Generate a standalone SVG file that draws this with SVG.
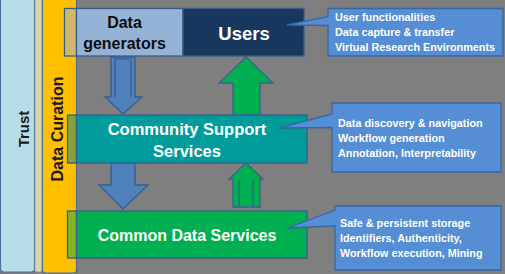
<svg xmlns="http://www.w3.org/2000/svg" width="505" height="274" viewBox="0 0 505 274">
<style>
.bx{stroke:#385d8a;stroke-width:1.3}
.cl{fill:#558ed5;stroke:#3a679f;stroke-width:1.3}
.t{font-family:"Liberation Sans",Arial,sans-serif;font-weight:bold}
.ct{font-family:"Liberation Sans",Arial,sans-serif;font-weight:bold;font-size:10.8px;fill:#ffffff}
.ab{fill:#4f81bd;stroke:#385d8a;stroke-width:1.3}
.ag{fill:#00b050;stroke:#3f5f8a;stroke-width:1.3}
.ln{fill:none;stroke:#385d8a;stroke-width:1.2}
</style>
<rect x="0" y="0" width="505" height="274" fill="#7f7f7f"/>
<g id="trust">
<rect x="0.5" y="-10" width="34" height="282" rx="3" fill="#b7dee8" stroke="#4a6f9a" stroke-width="1.2"/>
<text class="t" font-size="15" fill="#1a1a1a" transform="translate(28.5,129) rotate(-90)" text-anchor="middle">Trust</text>
</g>
<rect x="35" y="-10" width="7" height="282" rx="2" fill="#d6d7a4" stroke="#8a9ab8" stroke-width="0.8"/>
<g id="data-curation">
<rect x="42.5" y="-10" width="34" height="283" rx="3" fill="#ffc000" stroke="#4a6f9a" stroke-width="1.2"/>
<text class="t" font-size="16" fill="#1a1a1a" transform="translate(63,129) rotate(-90)" text-anchor="middle">Data Curation</text>
</g>
<g id="connectors">
<path class="ab" d="M111,57 H135 V97 H142 L123,114 L105,97 H111 Z"/>
<path class="ln" d="M115,97 V59 H131 V97"/>
<path class="ab" d="M111,163 H135 V185 H148 L123,209 L99,185 H111 Z"/>
<path class="ag" d="M233,115 V83 H219 L246,57 L273,83 H260 V115 Z"/>
<path class="ag" d="M233,207 V179 H229 L246,163 L263,179 H260 V207 Z"/>
<path class="ln" d="M239,207 V180 M253,207 V180" stroke="#3f5f8a"/>
</g>
<g id="data-generators">
<rect class="bx" x="64.5" y="8.5" width="12" height="47.5" fill="#d2b96a"/>
<rect class="bx" x="76.5" y="8.5" width="106.5" height="47.5" fill="#95b3d7"/>
<text class="t" font-size="16" fill="#0d0d0d" text-anchor="middle"><tspan x="124.5" y="27.5">Data</tspan><tspan x="124.5" y="49">generators</tspan></text>
</g>
<g id="users">
<rect class="bx" x="183" y="8.5" width="121" height="47.5" fill="#17375e"/>
<text class="t" font-size="18.5" fill="#ffffff" text-anchor="middle" x="244" y="39.5">Users</text>
</g>
<g id="community-support-services">
<rect class="bx" x="67.5" y="115" width="9" height="48" fill="#84a23e"/>
<rect class="bx" x="76.5" y="115" width="230.5" height="48" fill="#009b9b"/>
<text class="t" font-size="16.5" fill="#ffffff" text-anchor="middle"><tspan x="187" y="135">Community Support</tspan><tspan x="187" y="157">Services</tspan></text>
</g>
<g id="common-data-services">
<rect class="bx" x="67.5" y="211" width="9" height="47" fill="#84b42c"/>
<rect class="bx" x="76.5" y="211" width="230.5" height="47" fill="#00b050"/>
<text class="t" font-size="16" fill="#ffffff" text-anchor="middle" x="187" y="240.5">Common Data Services</text>
</g>
<g id="callout-users">
<path class="cl" d="M328,8.5 H503 V56 H328 V25.5 L287,25 L328,16.5 Z"/>
<text class="ct"><tspan x="335" y="20.5">User functionalities</tspan><tspan x="335" y="35.5">Data capture &amp; transfer</tspan><tspan x="335" y="50.5">Virtual Research Environments</tspan></text>
</g>
<g id="callout-community">
<path class="cl" d="M332,103 H501 V172 H332 V127.5 L279,128 L332,114 Z"/>
<text class="ct"><tspan x="338" y="126.5">Data discovery &amp; navigation</tspan><tspan x="338" y="141.5">Workflow generation</tspan><tspan x="338" y="156.5">Annotation, Interpretability</tspan></text>
</g>
<g id="callout-common">
<path class="cl" d="M335,206 H501 V270 H335 V226 L288,228 L335,210 Z"/>
<text class="ct"><tspan x="340" y="226.5">Safe &amp; persistent storage</tspan><tspan x="340" y="241.5">Identifiers, Authenticity,</tspan><tspan x="340" y="256.5">Workflow execution, Mining</tspan></text>
</g>
</svg>
